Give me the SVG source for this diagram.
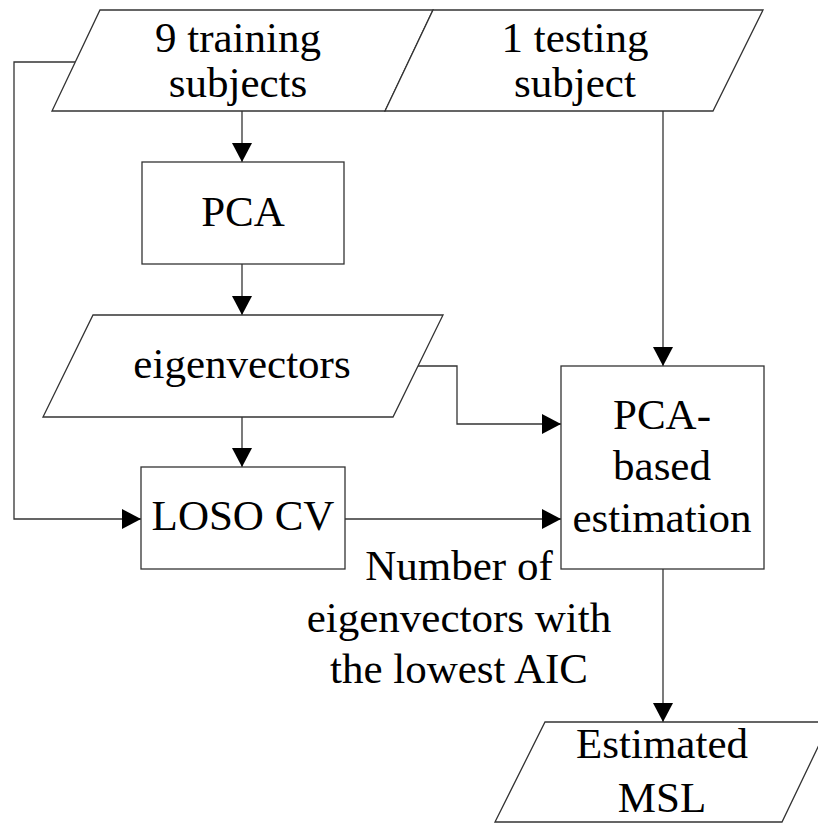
<svg xmlns="http://www.w3.org/2000/svg" width="818" height="823" viewBox="0 0 818 823">
<style>
.shape{fill:#fff;stroke:#333;stroke-width:1.3}
.conn{fill:none;stroke:#333;stroke-width:1.3}
</style>
<defs>
<marker id="arr" markerUnits="userSpaceOnUse" markerWidth="20" markerHeight="20" refX="19" refY="10" orient="auto">
<path d="M0,0 L19,10 L0,20 z" fill="#000"/>
</marker>
</defs>
<rect width="818" height="823" fill="#fff"/>
<g id="connectors">
<path class="conn" d="M75,62 H14 V519 H141" marker-end="url(#arr)"/>
<path class="conn" d="M242,111 V162" marker-end="url(#arr)"/>
<path class="conn" d="M242,264 V315" marker-end="url(#arr)"/>
<path class="conn" d="M242,417 V467" marker-end="url(#arr)"/>
<path class="conn" d="M418,366 H457 V424 H561" marker-end="url(#arr)"/>
<path class="conn" d="M345,519 H561" marker-end="url(#arr)"/>
<path class="conn" d="M663,111 V366" marker-end="url(#arr)"/>
<path class="conn" d="M663,569 V722" marker-end="url(#arr)"/>
</g>
<g id="training">
<polygon class="shape" points="100,10 433,10 385,111 52,111"/>
<text font-family="Liberation Serif" font-size="43" text-anchor="middle" x="238" y="52">9 training</text>
<text font-family="Liberation Serif" font-size="43" text-anchor="middle" x="238" y="97">subjects</text>
</g>
<g id="testing">
<polygon class="shape" points="433,10 763,10 713,111 385,111"/>
<text font-family="Liberation Serif" font-size="43" text-anchor="middle" x="575" y="52">1 testing</text>
<text font-family="Liberation Serif" font-size="43" text-anchor="middle" x="575" y="97">subject</text>
</g>
<g id="pca">
<rect class="shape" x="142" y="162" width="202" height="102"/>
<text font-family="Liberation Serif" font-size="43" text-anchor="middle" x="243" y="226">PCA</text>
</g>
<g id="eigenvectors">
<polygon class="shape" points="93,315 443,315 393,417 43,417"/>
<text font-family="Liberation Serif" font-size="43" text-anchor="middle" x="242" y="378">eigenvectors</text>
</g>
<g id="loso">
<rect class="shape" x="141" y="467" width="204" height="102"/>
<text font-family="Liberation Serif" font-size="43" text-anchor="middle" x="243" y="530">LOSO CV</text>
</g>
<g id="pcabased">
<rect class="shape" x="561" y="366" width="203" height="203"/>
<text font-family="Liberation Serif" font-size="43" text-anchor="middle" x="662" y="429">PCA-</text>
<text font-family="Liberation Serif" font-size="43" text-anchor="middle" x="662" y="480">based</text>
<text font-family="Liberation Serif" font-size="43" text-anchor="middle" x="662" y="532">estimation</text>
</g>
<g id="label">
<text font-family="Liberation Serif" font-size="43" text-anchor="middle" x="459" y="580">Number of</text>
<text font-family="Liberation Serif" font-size="43" text-anchor="middle" x="459" y="632">eigenvectors with</text>
<text font-family="Liberation Serif" font-size="43" text-anchor="middle" x="459" y="683">the lowest AIC</text>
</g>
<g id="estimated">
<polygon class="shape" points="545,722 830,722 782,822 495,822"/>
<text font-family="Liberation Serif" font-size="43" text-anchor="middle" x="662" y="758">Estimated</text>
<text font-family="Liberation Serif" font-size="43" text-anchor="middle" x="662" y="812">MSL</text>
</g>
</svg>
